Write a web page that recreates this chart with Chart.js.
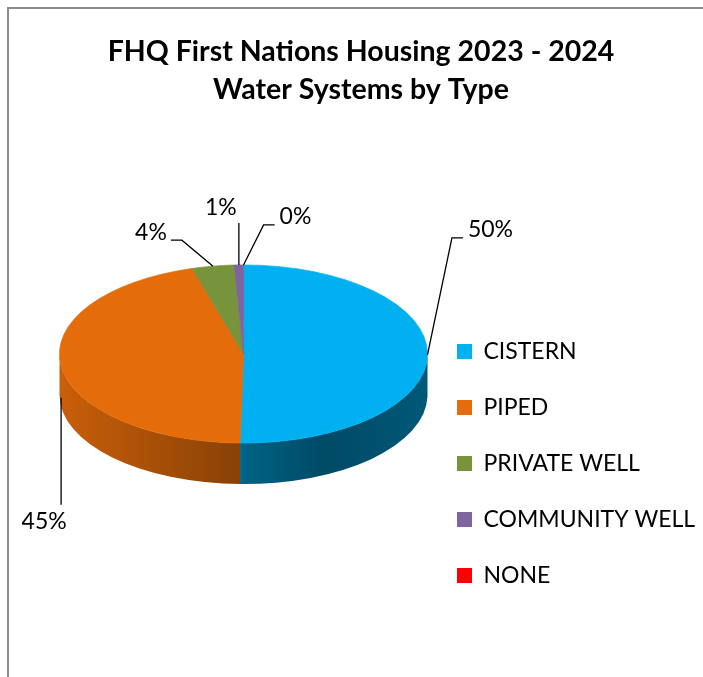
<!DOCTYPE html>
<html>
<head>
<meta charset="utf-8">
<script src="https://cdn.jsdelivr.net/npm/chart.js@4.4.1/dist/chart.umd.min.js"></script>
<style>
html,body{margin:0;padding:0;overflow:hidden;background:#fff;width:703px;height:677px}
canvas{position:absolute;left:0;top:0}
</style>
</head>
<body>
<canvas id="c" width="722" height="700"></canvas>
<script>
// ---- data ----
const categories = ['CISTERN', 'PIPED', 'PRIVATE WELL', 'COMMUNITY WELL', 'NONE'];
const shares = [50.3, 45.2, 3.7, 0.8, 0];
const titleLines = ['FHQ First Nations Housing 2023 - 2024', 'Water Systems by Type'];

// ---- style ----
const sliceColors = ['#00B0F0', '#E46C0A', '#77933C', '#8064A2', '#FF0000'];
const labelOffsets = [[63, -125], [-17, 124], [-62, -34], [-18, -57], [52, -48]];

function hexToRgb(h) {
  const n = parseInt(h.slice(1), 16);
  return [(n >> 16) & 255, (n >> 8) & 255, n & 255];
}
function shade(h, f) {
  const [r, g, b] = hexToRgb(h);
  return `rgb(${Math.round(r * f)},${Math.round(g * f)},${Math.round(b * f)})`;
}

const pie3d = {
  id: 'pie3d',
  afterLayout(chart) {
    const lg = chart.legend;
    if (lg) { lg.right = chart.width; lg.width = lg.right - lg.left; }
  },
  beforeDraw(chart, args, o) {
    const ctx = chart.ctx;
    ctx.save();
    ctx.fillStyle = '#fff';
    ctx.fillRect(0, 0, chart.width, chart.height);
    ctx.strokeStyle = '#8a8a8a';
    ctx.lineWidth = 2;
    ctx.strokeRect(8, 8, chart.width - 16, chart.height - 16);
    ctx.restore();
  },
  beforeDatasetsDraw(chart, args, o) {
    const ctx = chart.ctx;
    const arcs = chart.getDatasetMeta(0).data;
    if (!arcs.length) return false;
    const cx = arcs[0].x, cy = arcs[0].y, rx = arcs[0].outerRadius;
    const ry = rx * o.tilt, depth = o.depth;
    ctx.save();
    arcs.forEach((arc, i) => {
      const s = Math.max(arc.startAngle, 0);
      const e = Math.min(arc.endAngle, Math.PI);
      if (e <= s) return;
      const base = sliceColors[i];
      const g = ctx.createLinearGradient(cx - rx, 0, cx + rx, 0);
      g.addColorStop(0, shade(base, 0.88));
      g.addColorStop(0.49, shade(base, 0.6));
      g.addColorStop(0.51, shade(base, 0.55));
      g.addColorStop(0.72, shade(base, 0.42));
      g.addColorStop(1, shade(base, 0.5));
      ctx.beginPath();
      ctx.ellipse(cx, cy, rx, ry, 0, s, e, false);
      ctx.ellipse(cx, cy + depth, rx, ry, 0, e, s, true);
      ctx.closePath();
      ctx.fillStyle = g;
      ctx.fill();
    });
    ctx.restore();
    ctx.save();
    ctx.translate(cx, cy);
    ctx.scale(1, o.tilt);
    ctx.translate(-cx, -cy);
    arcs.forEach(a => a.draw(ctx));
    ctx.restore();
    return false;
  },
  afterDraw(chart, args, o) {
    const ctx = chart.ctx;
    const arcs = chart.getDatasetMeta(0).data;
    if (!arcs.length) return;
    const vals = chart.data.datasets[0].data;
    const total = vals.reduce((a, b) => a + b, 0);
    const cx = arcs[0].x, cy = arcs[0].y, rx = arcs[0].outerRadius;
    const ry = rx * o.tilt, depth = o.depth;
    ctx.save();
    ctx.font = `${o.labelSize}px ${o.labelFamily}`;
    ctx.fillStyle = '#000';
    ctx.strokeStyle = '#000';
    ctx.lineWidth = 1.3;
    arcs.forEach((arc, i) => {
      const mid = (arc.startAngle + arc.endAngle) / 2;
      const ax = cx + rx * Math.cos(mid);
      let ay = cy + ry * Math.sin(mid);
      if (Math.sin(mid) > 0.05) ay += depth * 0.78;
      const [dx, dy] = o.offsets[i];
      const lx = ax + dx, ly = ay + dy;
      const text = Math.round(vals[i] / total * 100) + '%';
      const w = ctx.measureText(text).width;
      ctx.beginPath();
      ctx.moveTo(ax, ay);
      if (lx - w / 2 > ax + 5) {
        const ex = lx - w / 2 - 5, ey = ly + 8;
        ctx.lineTo(ex - 11, ey); ctx.lineTo(ex, ey);
      } else if (lx + w / 2 < ax - 5) {
        const ex = lx + w / 2 + 4, ey = ly + 8;
        ctx.lineTo(ex + 11, ey); ctx.lineTo(ex, ey);
      } else {
        const ey = ly + (dy < 0 ? 15 : -17);
        ctx.lineTo(ax, ey);
      }
      ctx.stroke();
      ctx.textAlign = 'center';
      ctx.textBaseline = 'middle';
      ctx.fillText(text, lx, ly);
    });
    ctx.restore();
  }
};

new Chart(document.getElementById('c'), {
  type: 'pie',
  data: {
    labels: categories,
    datasets: [{
      data: shares,
      backgroundColor: sliceColors,
      borderColor: sliceColors,
      borderWidth: [1, 1, 1, 1, 0],
      radius: 184
    }]
  },
  plugins: [pie3d],
  options: {
    responsive: false,
    animation: false,
    layout: { padding: { left: 63, right: 63, top: 0, bottom: 80 } },
    plugins: {
      tooltip: { enabled: false },
      title: {
        display: true,
        text: titleLines,
        color: '#000',
        font: { family: 'Lato', size: 28.5, weight: 'bold', lineHeight: '38px' },
        padding: { top: 33, bottom: -21 }
      },
      legend: {
        position: 'right',
        align: 'end',
        maxWidth: 235,
        labels: {
          boxWidth: 15,
          boxHeight: 15,
          padding: 33,
          color: '#000',
          font: { family: 'Lato', size: 23 },
          generateLabels(chart) {
            const items = Chart.overrides.pie.plugins.legend.labels.generateLabels(chart);
            items.forEach(it => { it.lineWidth = 0; });
            return items;
          }
        }
      },
      pie3d: {
        tilt: 0.484,
        depth: 41,
        offsets: labelOffsets,
        labelSize: 23,
        labelFamily: 'Lato'
      }
    }
  }
});
</script>
</body>
</html>
